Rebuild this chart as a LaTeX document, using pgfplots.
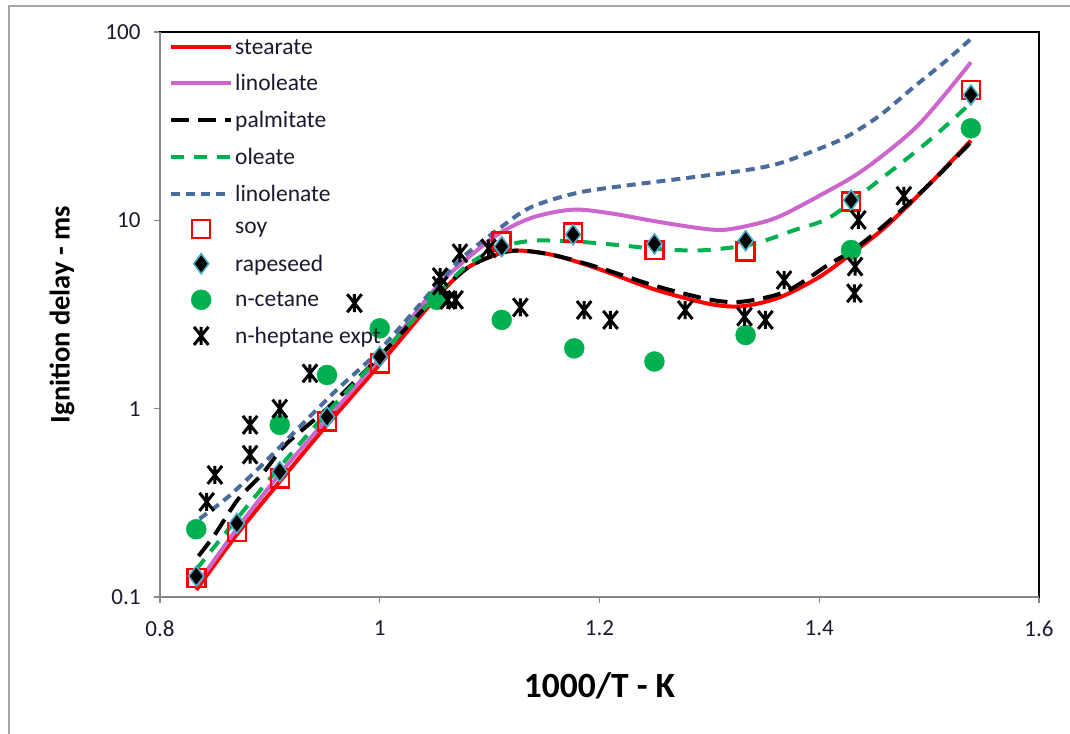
\documentclass[border=0pt]{standalone}
\usepackage{fontspec}
\setmainfont{Carlito}
\usepackage{pgfplots}
\pgfplotsset{compat=1.18}
\definecolor{Stearate}{HTML}{FF0000}
\definecolor{Linoleate}{HTML}{CC66CC}
\definecolor{Oleate}{HTML}{00B050}
\definecolor{Linolenate}{HTML}{4A6C9C}
\definecolor{Teal}{HTML}{4BACC6}
\definecolor{AxisGrey}{HTML}{868686}
\definecolor{FrameGrey}{HTML}{A6A6A6}
\definecolor{TickText}{HTML}{1A1A2E}

% Excel style star marker: an X with a vertical bar
\pgfdeclareplotmark{xstar}{%
  \pgfpathmoveto{\pgfqpoint{-.8\pgfplotmarksize}{-\pgfplotmarksize}}%
  \pgfpathlineto{\pgfqpoint{.8\pgfplotmarksize}{\pgfplotmarksize}}%
  \pgfpathmoveto{\pgfqpoint{-.8\pgfplotmarksize}{\pgfplotmarksize}}%
  \pgfpathlineto{\pgfqpoint{.8\pgfplotmarksize}{-\pgfplotmarksize}}%
  \pgfpathmoveto{\pgfqpoint{0pt}{-\pgfplotmarksize}}%
  \pgfpathlineto{\pgfqpoint{0pt}{\pgfplotmarksize}}%
  \pgfusepathqstroke}

\pgfplotsset{
  linelegend/.style={legend image code/.code={\draw[##1] (0pt,0pt) -- (60pt,0pt);}},
  marklegend/.style={legend image code/.code={\path (0pt,0pt) (60pt,0pt);\draw[##1] plot coordinates {(30pt,0pt)};}},
}

\begin{document}
\begin{tikzpicture}
\useasboundingbox (-160pt,-136pt) rectangle (910pt,597pt);
\draw[FrameGrey,line width=2pt] (-151pt,-140pt) -- (-151pt,591pt) -- (915pt,591pt);
\begin{axis}[
  scale only axis,
  width=879pt, height=565pt,
  xmin=0.8, xmax=1.6,
  ymode=log, ymin=0.1, ymax=100,
  xtick={0.8,1.0,1.2,1.4,1.6},
  xticklabels={0.8,1,1.2,1.4,1.6},
  ytick={0.1,1,10,100},
  yticklabels={0.1,1,10,100},
  yminorticks=false,
  xtick pos=left, ytick pos=left,
  tick align=outside,
  major tick length=6pt,
  tick style={draw=AxisGrey,line width=1.2pt},
  axis line style={draw=black,line width=1.2pt},
  ticklabel style={font=\fontsize{23}{27}\selectfont,color=TickText},
  /pgf/number format/assume math mode=true,
  yticklabel style={xshift=-10pt},
  xticklabel style={yshift=-14pt},
  xlabel={1000/T - K},
  ylabel={Ignition delay - ms},
  every axis x label/.style={at={(axis description cs:0.5,0)},anchor=center,yshift=-89pt,font=\fontsize{35.5}{42}\selectfont\bfseries},
  every axis y label/.style={at={(axis description cs:0,0.5)},anchor=center,xshift=-98pt,rotate=90,font=\fontsize{28.5}{34}\selectfont\bfseries},
  legend cell align=left,
  legend style={at={(axis description cs:0,1)},anchor=north west,draw=none,fill=none,
    xshift=6pt,yshift=-3pt,row sep=15pt,
    font=\fontsize{23.5}{27}\selectfont,text=TickText},
  clip=false,
]
\addplot[linelegend,Stearate,line width=4pt,smooth] coordinates {
(0.833,0.109)(0.870,0.215)(0.909,0.41)(0.952,0.82)(1.000,1.72)(1.050,3.8)
(1.080,5.6)(1.110,6.7)(1.130,6.9)(1.160,6.5)(1.200,5.5)(1.250,4.3)
(1.300,3.6)(1.330,3.5)(1.364,3.9)(1.400,5.0)(1.430,6.7)(1.460,9.2)
(1.500,15.5)(1.538,26.5)};
\addlegendentry{stearate}
\addplot[linelegend,Linoleate,line width=4pt,smooth] coordinates {
(0.833,0.115)(0.870,0.23)(0.909,0.45)(0.952,0.88)(1.000,1.85)(1.050,4.3)
(1.080,6.3)(1.110,8.6)(1.140,10.4)(1.176,11.4)(1.210,10.9)(1.250,9.9)
(1.290,9.1)(1.313,8.9)(1.340,9.5)(1.364,10.5)(1.400,13.5)(1.440,18.5)
(1.490,32)(1.538,69)};
\addlegendentry{linoleate}
\addplot[linelegend,black,line width=4pt,smooth,dash pattern=on 18pt off 9pt] coordinates {
(0.835,0.165)(0.850,0.215)(0.871,0.33)(0.893,0.45)(0.915,0.65)(0.952,1.0)
(1.000,1.9)(1.050,3.9)(1.080,5.6)(1.110,6.7)(1.130,6.9)(1.160,6.5)
(1.200,5.6)(1.250,4.5)(1.300,3.8)(1.330,3.7)(1.370,4.2)(1.410,5.9)
(1.430,6.9)(1.460,9.5)(1.500,15.5)(1.538,26)};
\addlegendentry{palmitate}
\addplot[linelegend,Oleate,line width=4pt,smooth,dash pattern=on 13pt off 10pt] coordinates {
(0.833,0.14)(0.870,0.26)(0.909,0.49)(0.952,0.95)(1.000,1.9)(1.050,3.9)
(1.080,5.8)(1.110,7.2)(1.140,7.8)(1.180,7.7)(1.216,7.4)(1.260,7.0)
(1.297,6.95)(1.340,7.5)(1.378,8.9)(1.410,10.4)(1.455,16.4)(1.500,26.5)
(1.538,42)};
\addlegendentry{oleate}
\addplot[linelegend,Linolenate,line width=4pt,smooth,dash pattern=on 9pt off 6pt] coordinates {
(0.836,0.26)(0.862,0.34)(0.894,0.51)(0.927,0.80)(0.961,1.26)(1.000,2.05)
(1.050,4.4)(1.076,6.4)(1.106,8.8)(1.137,11.7)(1.180,14)(1.228,15.4)
(1.280,16.8)(1.334,18.5)(1.364,20.1)(1.400,24)(1.425,27.8)(1.455,36)
(1.486,51)(1.515,70)(1.539,93)};
\addlegendentry{linolenate}
\addplot[marklegend,only marks,mark=square,mark size=9pt,draw=Stearate,line width=2.5pt]
  coordinates {
(0.833,0.126)(0.870,0.222)(0.909,0.427)(0.952,0.853)(1.000,1.74)(1.111,7.7)
(1.176,8.6)(1.250,6.96)(1.333,6.82)(1.429,12.6)(1.538,49.3)};
\addlegendentry{soy}
\addplot[marklegend,only marks,mark=diamond*,mark size=10pt,draw=Teal,fill=black,line width=1.6pt]
  coordinates {
(0.833,0.129)(0.870,0.246)(0.909,0.463)(0.952,0.905)(1.000,1.89)(1.111,7.25)
(1.176,8.4)(1.250,7.5)(1.333,7.8)(1.429,12.8)(1.538,46.3)};
\addlegendentry{rapeseed}
\addplot[marklegend,only marks,mark=*,mark size=10pt,draw=Oleate,fill=Oleate]
  coordinates {
(0.833,0.229)(0.909,0.82)(0.952,1.51)(1.000,2.67)(1.052,3.78)(1.111,2.96)
(1.177,2.09)(1.250,1.78)(1.333,2.46)(1.429,6.96)(1.538,30.8)};
\addlegendentry{n-cetane}
\addplot[marklegend,only marks,mark=xstar,mark size=9pt,draw=black,line width=3pt]
  coordinates {
(0.8425,0.32)(0.850,0.445)(0.882,0.57)(0.882,0.82)(0.909,1.0)(0.9365,1.54)
(0.977,3.63)(1.055,5.0)(1.055,4.5)(1.062,3.78)(1.069,3.78)(1.073,6.69)
(1.099,7.1)(1.128,3.45)(1.186,3.34)(1.210,2.96)(1.278,3.34)(1.332,3.08)
(1.351,2.96)(1.368,4.82)(1.432,4.1)(1.4326,5.68)(1.4356,10.05)(1.477,13.5)};
\addlegendentry{n-heptane expt}
\draw[AxisGrey,line width=1.4pt] (rel axis cs:0,1) -- (rel axis cs:0,0) -- (rel axis cs:1,0);
\end{axis}
\end{tikzpicture}
\end{document}
